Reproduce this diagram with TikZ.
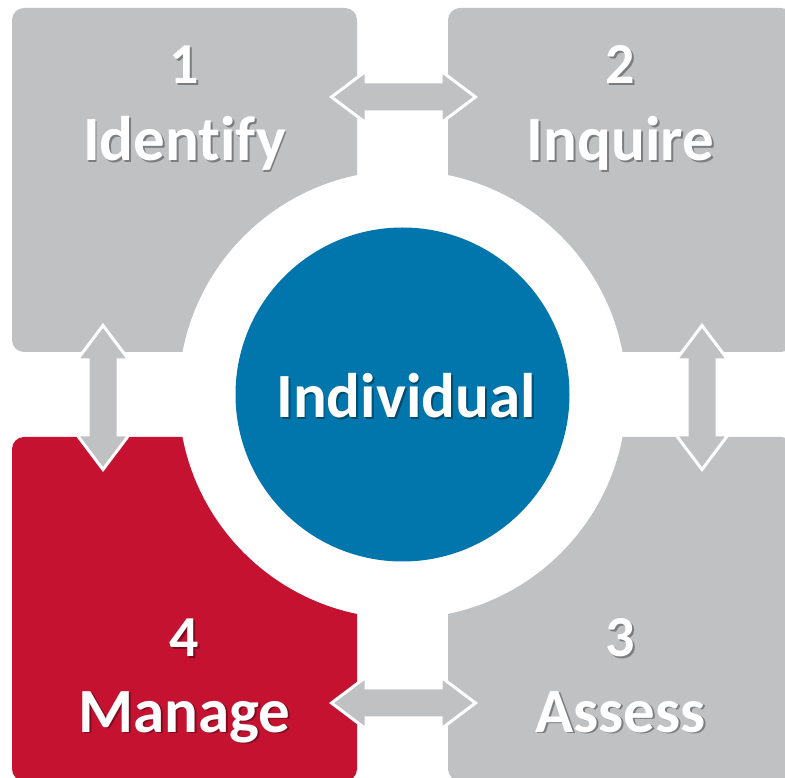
\documentclass[tikz,border=0pt]{standalone}
\usepackage{fontspec}
\setmainfont{Carlito}[Ligatures=NoCommon]
\usepackage{tikz}
\usetikzlibrary{positioning}
\definecolor{stepGray}{RGB}{192,193,195}
\definecolor{stepRed}{RGB}{196,18,48}
\definecolor{hubBlue}{RGB}{0,118,173}
\newcommand{\boxSize}[0]{345}
\newcommand{\numFont}[0]{\fontsize{58}{58}\selectfont\bfseries}
\newcommand{\wordFont}[0]{\fontsize{63}{63}\selectfont\bfseries}
\newcommand{\shadowText}[4]{%
  \node[shadow text, font=#4] (#1-s) at ([shift={(1.8,-1.8)}]#2) {#3};
  \node[step text, font=#4] (#1) at (#2) {#3};}

\begin{document}
\begin{tikzpicture}[x=1pt, y=1pt]
  \tikzset{stepbox/.style={rectangle, rounded corners=12pt, inner sep=0pt,
      minimum width=\boxSize pt, minimum height=344pt},
    step text/.style={text=white, anchor=base, inner sep=0pt},
    shadow text/.style={text=black, text opacity=0.35, anchor=base, inner sep=0pt},
    link/.pic={\draw[fill=stepGray, draw=white, line width=3pt, miter limit=10]
      (-72,0) -- (-37.5,26) -- (-37.5,15) -- (37.5,15) -- (37.5,26)
      -- (72,0) -- (37.5,-26) -- (37.5,-15) -- (-37.5,-15) -- (-37.5,-26) -- cycle;}}
  \useasboundingbox (0,0) rectangle (785,777);
  \clip (0,0) rectangle (785,777);
  \node[stepbox, fill=stepGray] (identify) at (184.5,597) {};
  \node[stepbox, fill=stepGray] (inquire) at (620.5,597) {};
  \node[stepbox, fill=stepGray] (assess) at (620.5,168) {};
  \node[stepbox, fill=stepRed] (manage) at (184.5,168) {};
  \node[circle, fill=white, inner sep=0pt, minimum size=448pt] (ring) at (402.5,382.5) {};
  \node[circle, fill=hubBlue, inner sep=0pt, minimum size=334pt] (hub) at (ring) {};
  \pic (link-top) at (403.5,680) {link};
  \pic (link-bottom) at (403.5,74) {link};
  \pic[rotate=90] (link-left) at (103,379.5) {link};
  \pic[rotate=90] (link-right) at (702,379.5) {link};
  \coordinate (identify-n) at (184.5,693);
  \coordinate (identify-w) at (184.5,616);
  \coordinate (inquire-n) at (620.5,693);
  \coordinate (inquire-w) at (620.5,616);
  \coordinate (assess-n) at (620.5,120);
  \coordinate (assess-w) at (620.5,45);
  \coordinate (manage-n) at (184.5,120);
  \coordinate (manage-w) at (184.5,45);
  \coordinate (hub-w) at (406,359);
  \shadowText{num-1}{identify-n}{1}{\numFont}
  \shadowText{word-1}{identify-w}{Identify}{\wordFont}
  \shadowText{num-2}{inquire-n}{2}{\numFont}
  \shadowText{word-2}{inquire-w}{Inquire}{\wordFont}
  \shadowText{num-3}{assess-n}{3}{\numFont}
  \shadowText{word-3}{assess-w}{Assess}{\wordFont}
  \shadowText{num-4}{manage-n}{4}{\numFont}
  \shadowText{word-4}{manage-w}{Manage}{\wordFont}
  \shadowText{word-hub}{hub-w}{Individual}{\wordFont}
\end{tikzpicture}
\end{document}
